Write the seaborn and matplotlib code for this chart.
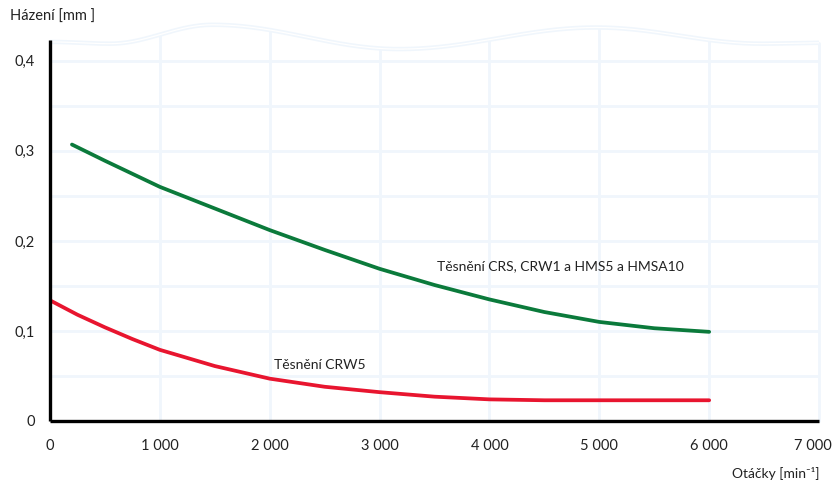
"""
Házení hřídele v závislosti na otáčkách
"""

import numpy as np
import pandas as pd
import seaborn as sns
import matplotlib.pyplot as plt
import matplotlib.transforms as mtransforms

# Data

crs_rpm = [200, 500, 1000, 1500, 2000, 2500, 3000, 3500, 4000, 4500, 5000, 5500, 6000]
crs_runout = [0.307, 0.289, 0.260, 0.236, 0.212, 0.190, 0.169, 0.151, 0.135, 0.121, 0.110, 0.103, 0.099]

crw5_rpm = [0, 250, 500, 750, 1000, 1500, 2000, 2500, 3000, 3500, 4000, 4500, 5000, 6000]
crw5_runout = [0.134, 0.118, 0.104, 0.091, 0.079, 0.061, 0.047, 0.038, 0.032, 0.027, 0.024, 0.023, 0.023, 0.023]

x_ticks = [0, 1000, 2000, 3000, 4000, 5000, 6000, 7000]
x_tick_labels = ['0', '1 000', '2 000', '3 000', '4 000', '5 000', '6 000', '7 000']
y_ticks = [0, 0.1, 0.2, 0.3, 0.4]
y_tick_labels = ['0', '0,1', '0,2', '0,3', '0,4']

# decorative "axis break" wave along the top
wave_x = [0, 545, 1480, 3180, 4970, 6480, 7000]
wave_y = [0.421, 0.419, 0.440, 0.413, 0.437, 0.419, 0.420]

df = pd.concat([
    pd.DataFrame({'rpm': crs_rpm, 'runout': crs_runout, 'seal': 'CRS'}),
    pd.DataFrame({'rpm': crw5_rpm, 'runout': crw5_runout, 'seal': 'CRW5'}),
])

GREEN = '#0b7a3b'
RED = '#e8152f'
GRID = '#f0f6fc'
TEXT = '#222222'

sns.set_style('white')
plt.rcParams['font.family'] = ['Lato', 'DejaVu Sans']

fig = plt.figure(figsize=(8.36, 4.83), dpi=100)
ax = fig.add_axes([0.0598, 0.1284, 0.9199, 0.7886])


def wave(x):
    # cosine easing between control points -> smooth wave
    x = np.asarray(x, dtype=float)
    out = np.empty_like(x)
    for i, xv in enumerate(x):
        j = min(np.searchsorted(wave_x, xv, side='right') - 1, len(wave_x) - 2)
        j = max(j, 0)
        t = (xv - wave_x[j]) / (wave_x[j + 1] - wave_x[j])
        t = (1 - np.cos(np.pi * t)) / 2
        out[i] = wave_y[j] + (wave_y[j + 1] - wave_y[j]) * t
    return out


# grid
for yv in np.arange(0.05, 0.401, 0.05):
    ax.axhline(yv, color=GRID, lw=2, zorder=0)
for xv in x_ticks[1:]:
    ax.plot([xv, xv], [0, wave([xv])[0]], color=GRID, lw=2, zorder=0, clip_on=False)

wx = np.linspace(0, 7000, 400)
ax.plot(wx, wave(wx), color=GRID, lw=3.2, zorder=0, clip_on=False, solid_capstyle='butt')
ax.plot(wx, wave(wx), color='white', lw=0.9, zorder=0, clip_on=False, solid_capstyle='butt')

sns.lineplot(data=df, x='rpm', y='runout', hue='seal', palette=[GREEN, RED],
             linewidth=2.7, legend=False, ax=ax, sort=False, estimator=None)
for line in ax.get_lines()[-2:]:
    line.set_solid_joinstyle('round')

ax.set_xlim(0, 7000)
ax.set_ylim(0, 0.423)

ax.set_xticks(x_ticks)
ax.set_xticklabels(x_tick_labels)
ax.set_yticks(y_ticks)
ax.set_yticklabels(y_tick_labels)
ax.tick_params(axis='both', colors='black', width=1.6, length=5, direction='out',
               labelsize=10.5, labelcolor=TEXT)
ax.tick_params(axis='x', pad=8)
ax.tick_params(axis='y', pad=6)

# last x label sits a little left of its tick, as in the original
last = ax.get_xticklabels()[-1]
last.set_transform(last.get_transform() +
                   mtransforms.ScaledTranslation(-6 / 100, 0, fig.dpi_scale_trans))

for s in ['top', 'right']:
    ax.spines[s].set_visible(False)
for s in ['left', 'bottom']:
    ax.spines[s].set_color('black')
    ax.spines[s].set_linewidth(2.4)
    ax.spines[s].set_capstyle('butt')

ax.set_xlabel('')
ax.set_ylabel('')

ax.text(3520, 0.172, 'Těsnění CRS, CRW1 a HMS5 a HMSA10', fontsize=10,
        color=TEXT, va='center', ha='left')
ax.text(2040, 0.062, 'Těsnění CRW5', fontsize=10, color=TEXT, va='center', ha='left')

fig.text(10 / 836, 1 - 17 / 483, 'Házení [mm ]', fontsize=10.5, color=TEXT, va='center', ha='left')
fig.text(820 / 836, 1 - 473 / 483, 'Otáčky [min⁻¹]', fontsize=10, color=TEXT, va='center', ha='right')

plt.savefig('out.png', dpi=100)
